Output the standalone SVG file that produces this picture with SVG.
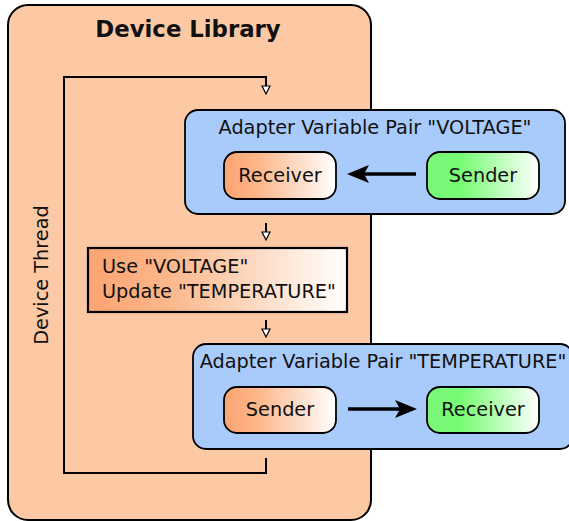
<svg xmlns="http://www.w3.org/2000/svg" width="569" height="521" viewBox="0 0 569 521">
<defs>
<linearGradient id="gOr" x1="0" y1="0" x2="1" y2="0"><stop offset="0" stop-color="#fca470"/><stop offset="0.3" stop-color="#fcb68a"/><stop offset="1" stop-color="#ffffff"/></linearGradient>
<linearGradient id="gGr" x1="0" y1="0" x2="1" y2="0"><stop offset="0" stop-color="#7af77a"/><stop offset="0.3" stop-color="#76fb72"/><stop offset="1" stop-color="#ffffff"/></linearGradient>
</defs>
<style>
text{font-family:"DejaVu Sans","Liberation Sans",sans-serif;fill:#111;}
.lbl{font-size:19.3px;}
.ttl{font-size:22.8px;font-weight:bold;}
.pair{fill:#a9cbfc;stroke:#000;stroke-width:1.8;}
.node{stroke:#000;stroke-width:1.8;}
.flow{fill:none;stroke:#000;stroke-width:2;}
.tri{fill:#fff;stroke:#000;stroke-width:1.2;}
.big{stroke:#000;stroke-width:3.5;fill:none;}
.head{fill:#000;stroke:none;}
</style>
<g id="device-library">
<rect x="8" y="5" width="363" height="515" rx="20" ry="20" fill="#fdc9a5" stroke="#000" stroke-width="2"/>
<text class="ttl" x="188" y="37" text-anchor="middle">Device Library</text>
<text class="lbl" transform="translate(48,275) rotate(-90)" text-anchor="middle">Device Thread</text>
</g>
<g id="pair-voltage">
<rect class="pair" x="185" y="110" width="380" height="104" rx="13" ry="13"/>
<text class="lbl" x="375" y="134" text-anchor="middle">Adapter Variable Pair "VOLTAGE"</text>
</g>
<g id="voltage-receiver">
<rect class="node" x="224" y="152" width="112" height="47" rx="13" ry="13" fill="url(#gOr)"/>
<text class="lbl" x="280" y="182" text-anchor="middle">Receiver</text>
</g>
<g id="voltage-sender">
<rect class="node" x="427" y="152" width="112" height="47" rx="13" ry="13" fill="url(#gGr)"/>
<text class="lbl" x="483" y="182" text-anchor="middle">Sender</text>
</g>
<g id="use-update">
<rect x="88" y="248" width="259" height="64" fill="url(#gOr)" stroke="#000" stroke-width="2.2"/>
<text class="lbl" x="102" y="273">Use "VOLTAGE"</text>
<text class="lbl" x="102" y="298">Update "TEMPERATURE"</text>
</g>
<g id="pair-temperature">
<rect class="pair" x="193" y="344" width="380" height="105" rx="13" ry="13"/>
<text class="lbl" x="383" y="368" text-anchor="middle">Adapter Variable Pair "TEMPERATURE"</text>
</g>
<g id="temperature-sender">
<rect class="node" x="224" y="387" width="112" height="46" rx="13" ry="13" fill="url(#gOr)"/>
<text class="lbl" x="280" y="416" text-anchor="middle">Sender</text>
</g>
<g id="temperature-receiver">
<rect class="node" x="427" y="387" width="112" height="46" rx="13" ry="13" fill="url(#gGr)"/>
<text class="lbl" x="483" y="416" text-anchor="middle">Receiver</text>
</g>
<g id="connectors">
<path class="flow" d="M266,458 V473 H64 V77 H266 V86"/>
<path class="tri" d="M262,86 L270,86 L266,94 Z"/>
<path class="flow" d="M266,223 V232"/>
<path class="tri" d="M262,232 L270,232 L266,240 Z"/>
<path class="flow" d="M266,320 V329"/>
<path class="tri" d="M262,329 L270,329 L266,337 Z"/>
<path class="big" d="M416,174 H362"/>
<path class="head" d="M347,174 L369,165 L364,174 L369,183 Z"/>
<path class="big" d="M348,409 H402"/>
<path class="head" d="M417,409 L395,400 L400,409 L395,418 Z"/>
</g>
</svg>
